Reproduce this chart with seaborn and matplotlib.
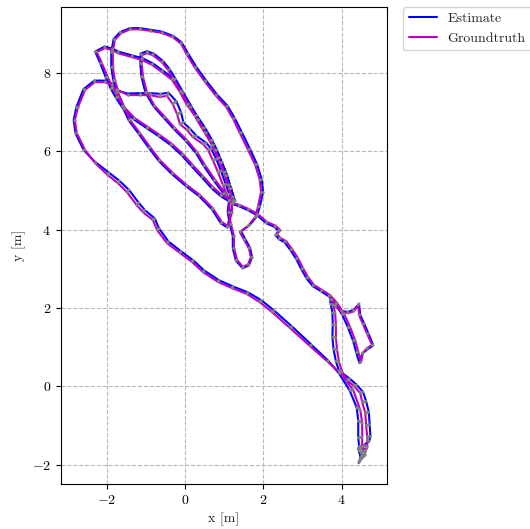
import matplotlib

matplotlib.use("Agg")
import matplotlib.pyplot as plt
import numpy as np
import pandas as pd
import seaborn as sns
from matplotlib.collections import LineCollection


# groundtruth trajectory (m), segment by segment
GT_X = [
    4.49, 4.62, 4.47, 4.60, 4.55, 4.65, 4.65, 4.65, 4.62, 4.60, 4.52, 4.47, 4.31, 4.14,
    4.01, 3.93, 3.88, 3.85, 3.85, 3.83, 3.78, 3.75,
    3.85, 4.01, 4.16, 4.31, 4.42, 4.44, 4.54, 4.65, 4.77, 4.65, 4.54, 4.49,
    4.42, 4.34, 4.21, 4.06, 3.88, 3.70, 3.50, 3.29, 3.14, 3.01, 2.88, 2.73, 2.58, 2.43, 2.35, 2.43, 2.32, 2.09, 1.86, 1.63, 1.40, 1.23,
    1.23, 1.12, 1.02, 0.89, 0.77, 0.64, 0.46, 0.26, 0.05, -0.13, -0.33, -0.59, -0.84, -1.10, -1.35, -1.71, -1.86, -2.04, -2.25,
    -2.12, -1.97, -1.84, -1.71, -1.53, -1.28, -0.94, -0.64, -0.33, -0.05, 0.20, 0.46, 0.71, 0.94, 1.15,
    1.12, 1.17, 1.25, 1.25, 1.33, 1.48, 1.61, 1.68, 1.63, 1.51, 1.40,
    1.61, 1.79, 1.86, 1.94, 1.91, 1.79, 1.61, 1.40, 1.23, 1.05, 0.79, 0.51, 0.26, 0.05, -0.10, -0.31, -0.59, -0.89, -1.15, -1.40, -1.63, -1.79, -1.84, -1.84, -1.79, -1.71,
    -1.46, -1.15, -0.89, -0.64, -0.46, -0.31, -0.20, -0.13, 0.05, 0.20, 0.46, 0.59, 0.71, 0.84, 0.97, 1.07, 1.20,
    1.02, 0.77, 0.51, 0.31, 0.05, -0.26, -0.51, -0.77, -0.97, -1.07, -1.10, -1.10, -0.97, -0.82, -0.59, -0.43, -0.28, -0.08, 0.13, 0.31, 0.51, 0.69, 0.84, 1.00, 1.10, 1.20,
    1.20, 1.10, 0.94, 0.71, 0.38, 0.05, -0.31, -0.64, -0.89, -1.15, -1.40, -1.56, -1.71,
    -1.86, -2.04, -2.30, -2.55, -2.73, -2.81, -2.76, -2.55, -2.30, -1.97, -1.71, -1.48, -1.23, -1.07, -0.82, -0.71, -0.46, -0.13, 0.18, 0.46, 0.84, 1.20, 1.58, 1.91, 2.22, 2.68, 3.19, 3.63, 3.96,
    4.29, 4.47, 4.52, 4.52, 4.52, 4.60, 4.47,
]
GT_Y = [
    -1.83, -1.62, -1.52, -1.67, -1.75, -1.55, -1.37, -1.29, -0.99, -0.68, -0.40, -0.17, 0.01, 0.16,
    0.37, 0.62, 0.93, 1.24, 1.57, 1.87, 2.08, 2.21,
    2.03, 1.90, 1.87, 1.92, 2.08, 1.82, 1.59, 1.34, 1.06, 0.98, 0.86, 0.62,
    0.88, 1.18, 1.52, 1.85, 2.13, 2.33, 2.46, 2.59, 2.79, 3.02, 3.28, 3.51, 3.71, 3.79, 3.89, 3.99, 4.10, 4.20, 4.40, 4.53, 4.63, 4.68,
    4.76, 5.07, 5.40, 5.73, 6.04, 6.29, 6.60, 6.91, 7.19, 7.52, 7.83, 8.03, 8.21, 8.34, 8.41, 8.51, 8.59, 8.64, 8.54,
    8.26, 7.90, 7.62, 7.39, 7.11, 6.85, 6.62, 6.42, 6.19, 5.93, 5.65, 5.37, 5.09, 4.89, 4.76,
    4.46, 4.15, 3.84, 3.53, 3.23, 3.05, 3.12, 3.30, 3.53, 3.74, 3.94,
    4.10, 4.32, 4.58, 4.96, 5.27, 5.66, 6.04, 6.47, 6.83, 7.14, 7.42, 7.78, 8.13, 8.47, 8.75, 8.92, 9.03, 9.08, 9.12, 9.12, 9.02, 8.85, 8.54, 8.16, 7.82, 7.57,
    7.44, 7.44, 7.44, 7.39, 7.42, 7.21, 6.95, 6.70, 6.55, 6.37, 6.19, 6.04, 5.78, 5.48, 5.14, 4.89, 4.68,
    4.94, 5.27, 5.65, 5.98, 6.29, 6.60, 6.88, 7.16, 7.51, 7.90, 8.23, 8.46, 8.51, 8.46, 8.28, 8.08, 7.83, 7.49, 7.13, 6.80, 6.47, 6.16, 5.83, 5.47, 5.14, 4.83,
    4.45, 4.09, 4.20, 4.55, 4.89, 5.14, 5.45, 5.78, 6.11, 6.47, 6.80, 7.16, 7.51,
    7.69, 7.77, 7.77, 7.57, 7.13, 6.80, 6.47, 6.04, 5.71, 5.40, 5.19, 4.96, 4.63, 4.45, 4.25, 3.99, 3.66, 3.41, 3.18, 2.92, 2.67, 2.51, 2.36, 2.15, 1.90, 1.49, 1.03, 0.64, 0.34,
    -0.09, -0.60, -0.93, -1.29, -1.55, -1.75, -1.88,
]

# estimated trajectory (m), same timestamps
EST_X = [
    4.45, 4.50, 4.42, 4.48, 4.45, 4.56, 4.70, 4.73, 4.71, 4.69, 4.62, 4.54, 4.38, 4.20,
    3.93, 3.85, 3.79, 3.76, 3.77, 3.76, 3.72, 3.70,
    3.82, 3.99, 4.15, 4.30, 4.44, 4.47, 4.57, 4.68, 4.80, 4.66, 4.52, 4.45,
    4.37, 4.29, 4.16, 4.01, 3.84, 3.67, 3.47, 3.26, 3.10, 2.97, 2.84, 2.69, 2.54, 2.40, 2.31, 2.38, 2.29, 2.07, 1.84, 1.61, 1.38, 1.21,
    1.27, 1.17, 1.07, 0.94, 0.82, 0.69, 0.51, 0.30, 0.09, -0.09, -0.30, -0.57, -0.82, -1.08, -1.34, -1.70, -1.86, -2.05, -2.29,
    -2.16, -2.02, -1.89, -1.76, -1.57, -1.31, -0.97, -0.67, -0.36, -0.08, 0.17, 0.43, 0.68, 0.91, 1.12,
    1.09, 1.14, 1.22, 1.22, 1.30, 1.47, 1.63, 1.71, 1.66, 1.54, 1.43,
    1.65, 1.83, 1.91, 1.99, 1.96, 1.84, 1.66, 1.45, 1.27, 1.09, 0.82, 0.54, 0.29, 0.08, -0.08, -0.30, -0.59, -0.89, -1.15, -1.40, -1.65, -1.82, -1.88, -1.88, -1.83, -1.75,
    -1.46, -1.15, -0.89, -0.62, -0.42, -0.22, -0.10, -0.04, 0.13, 0.29, 0.54, 0.67, 0.80, 0.92, 1.04, 1.13, 1.24,
    0.99, 0.74, 0.48, 0.28, 0.02, -0.29, -0.54, -0.80, -1.01, -1.11, -1.14, -1.13, -0.97, -0.80, -0.56, -0.39, -0.24, -0.04, 0.17, 0.35, 0.55, 0.73, 0.88, 1.04, 1.14, 1.24,
    1.17, 1.08, 0.92, 0.69, 0.36, 0.03, -0.33, -0.67, -0.92, -1.18, -1.43, -1.60, -1.75,
    -1.86, -2.04, -2.31, -2.59, -2.77, -2.84, -2.79, -2.58, -2.30, -1.94, -1.67, -1.43, -1.18, -1.02, -0.77, -0.66, -0.42, -0.10, 0.21, 0.49, 0.87, 1.23, 1.61, 1.95, 2.27, 2.73, 3.23, 3.66, 3.93,
    4.20, 4.38, 4.42, 4.42, 4.45, 4.52, 4.43,
]
EST_Y = [
    -1.92, -1.70, -1.58, -1.80, -1.65, -1.50, -1.40, -1.28, -0.98, -0.66, -0.38, -0.14, 0.04, 0.20,
    0.40, 0.64, 0.95, 1.26, 1.58, 1.88, 2.10, 2.22,
    2.06, 1.93, 1.90, 1.95, 2.11, 1.83, 1.60, 1.35, 1.05, 0.95, 0.84, 0.60,
    0.86, 1.16, 1.50, 1.83, 2.10, 2.30, 2.43, 2.56, 2.76, 2.99, 3.25, 3.48, 3.68, 3.76, 3.86, 3.97, 4.07, 4.17, 4.37, 4.50, 4.60, 4.66,
    4.76, 5.07, 5.40, 5.73, 6.03, 6.29, 6.61, 6.92, 7.21, 7.55, 7.87, 8.07, 8.25, 8.38, 8.45, 8.55, 8.63, 8.68, 8.55,
    8.25, 7.89, 7.60, 7.37, 7.08, 6.82, 6.59, 6.39, 6.16, 5.90, 5.62, 5.34, 5.06, 4.86, 4.73,
    4.46, 4.15, 3.84, 3.53, 3.21, 3.02, 3.09, 3.30, 3.54, 3.76, 3.96,
    4.12, 4.34, 4.59, 4.96, 5.28, 5.67, 6.06, 6.49, 6.85, 7.16, 7.45, 7.81, 8.16, 8.50, 8.78, 8.95, 9.06, 9.11, 9.15, 9.15, 9.05, 8.87, 8.54, 8.16, 7.82, 7.56,
    7.48, 7.49, 7.49, 7.47, 7.50, 7.28, 7.00, 6.74, 6.58, 6.40, 6.22, 6.07, 5.80, 5.50, 5.16, 4.91, 4.70,
    4.92, 5.25, 5.63, 5.96, 6.27, 6.58, 6.86, 7.15, 7.51, 7.91, 8.25, 8.50, 8.56, 8.50, 8.31, 8.10, 7.85, 7.50, 7.14, 6.81, 6.48, 6.17, 5.84, 5.48, 5.15, 4.84,
    4.45, 4.06, 4.16, 4.52, 4.86, 5.11, 5.42, 5.76, 6.09, 6.45, 6.79, 7.15, 7.51,
    7.73, 7.81, 7.81, 7.59, 7.13, 6.80, 6.46, 6.03, 5.74, 5.46, 5.25, 5.02, 4.69, 4.50, 4.29, 4.03, 3.70, 3.45, 3.22, 2.96, 2.71, 2.55, 2.40, 2.20, 1.94, 1.53, 1.06, 0.65, 0.33,
    -0.10, -0.54, -0.88, -1.31, -1.63, -1.82, -1.95,
]

X_TICKS = [-2, 0, 2, 4]
Y_TICKS = [-2, 0, 2, 4, 6, 8]


def main():
    assert len(GT_X) == len(GT_Y) == len(EST_X) == len(EST_Y)

    sns.set_style("ticks")
    plt.rcParams["font.family"] = "serif"
    plt.rcParams["font.serif"] = ["cmr10", "DejaVu Serif"]
    plt.rcParams["mathtext.fontset"] = "cm"
    plt.rcParams["axes.formatter.use_mathtext"] = True
    plt.rcParams["axes.unicode_minus"] = True

    est = pd.DataFrame({"x": EST_X, "y": EST_Y})
    gt = pd.DataFrame({"x": GT_X, "y": GT_Y})

    fig = plt.figure(figsize=(5.30, 5.29), dpi=100, facecolor="white")
    ax = fig.add_axes([0.1145, 0.0845, 0.6162, 0.9023])

    sns.lineplot(data=est, x="x", y="y", sort=False, estimator=None, ax=ax,
                 color="blue", lw=1.5, label="Estimate")
    sns.lineplot(data=gt, x="x", y="y", sort=False, estimator=None, ax=ax,
                 color="m", lw=1.5, label="Groundtruth")

    # error segments between matched poses
    segs = np.stack([est[["x", "y"]].to_numpy(), gt[["x", "y"]].to_numpy()], axis=1)
    ax.add_collection(LineCollection(segs, colors="gray", linewidths=2.0,
                                     capstyle="round", zorder=3))

    ax.set_xlim(-3.17, 5.16)
    ax.set_ylim(-2.50, 9.69)
    ax.set_xticks(X_TICKS)
    ax.set_yticks(Y_TICKS)
    ax.grid(True, linestyle="--", color="#b8b8b8", linewidth=0.8)
    ax.set_axisbelow(True)
    for s in ax.spines.values():
        s.set_color("black")
        s.set_linewidth(0.8)
    ax.tick_params(direction="out", length=3.5, width=0.8, labelsize=10, colors="black")
    ax.set_xlabel("x [m]", fontsize=10)
    ax.set_ylabel("y [m]", fontsize=10)

    ax.legend(loc="upper left", bbox_to_anchor=(1.049, 1.0), borderaxespad=0.0,
              fontsize=10, frameon=True, fancybox=True)

    fig.savefig("out.png", dpi=100, facecolor="white")
    plt.close(fig)


if __name__ == "__main__":
    main()
